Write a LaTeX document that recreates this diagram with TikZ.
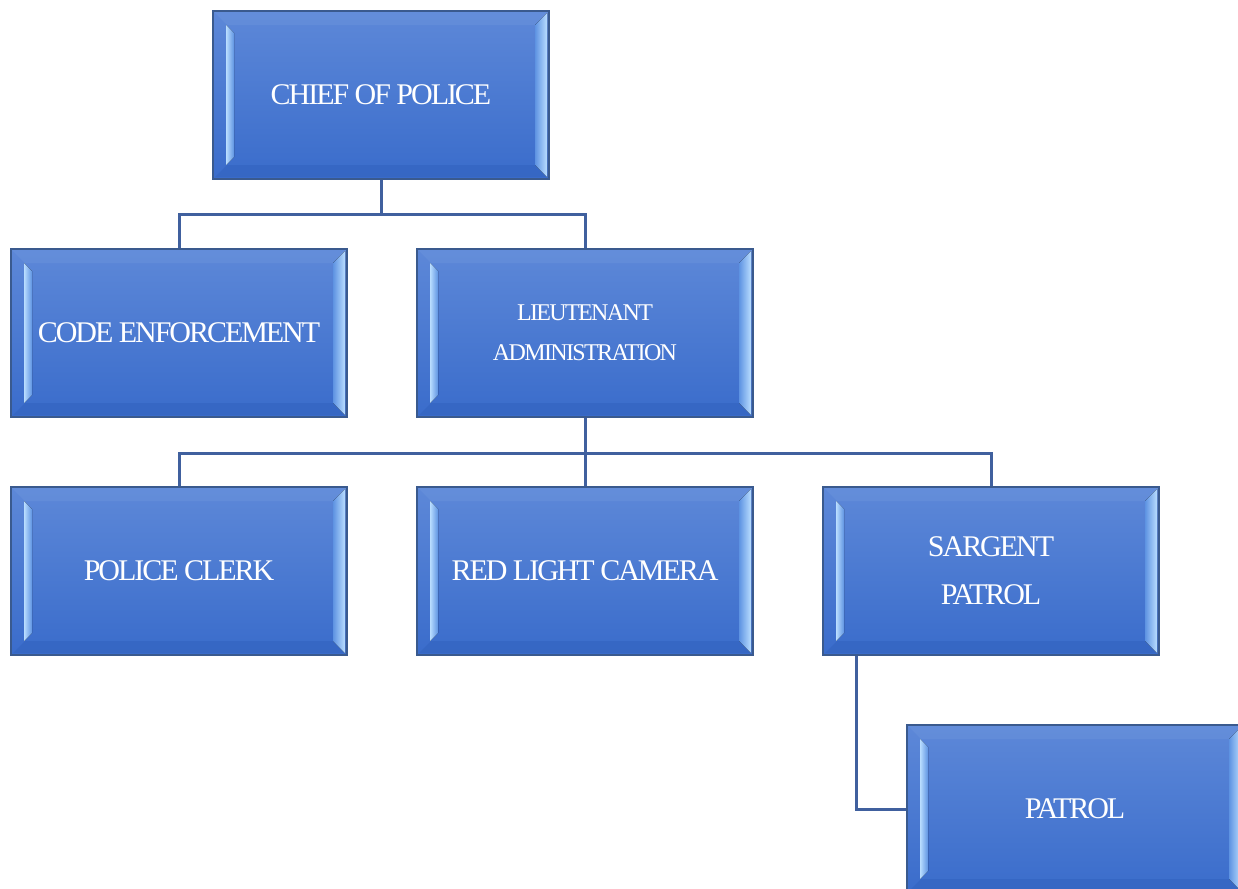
\documentclass[tikz,border=0pt]{standalone}
\usepackage{fontspec}
\newfontfamily\boxfont[LetterSpace=-6.8]{Liberation Serif}
\definecolor{fillA}{HTML}{5D88D8}
\definecolor{fillB}{HTML}{3A6CCB}
\definecolor{bordercol}{HTML}{3A5A8E}
\definecolor{conncol}{HTML}{40609E}
\definecolor{bevlight}{HTML}{B9DDFF}
\definecolor{bevmid}{HTML}{5E93E2}
\definecolor{bevbot}{HTML}{3566C2}
\definecolor{bevtop}{HTML}{6A93DC}
\tikzset{
  orgbox/.style={rectangle, minimum width=336pt, minimum height=168pt, inner sep=0pt,
    draw=bordercol, line width=1.6pt, top color=fillA, bottom color=fillB,
    text=white, align=center, font=\boxfont\fontsize{30}{48}\selectfont,
    path picture={
      \coordinate (nw) at (path picture bounding box.north west);
      \coordinate (ne) at (path picture bounding box.north east);
      \coordinate (sw) at (path picture bounding box.south west);
      \coordinate (se) at (path picture bounding box.south east);
      % top bevel
      \fill[bevtop, opacity=0.5] (nw) -- (ne) -- ([shift={(-14,14)}]ne) -- ([shift={(14,14)}]nw) -- cycle;
      % bottom bevel
      \fill[bevbot, opacity=0.8] ([shift={(2,-2)}]sw) -- ([shift={(-2,-2)}]se) -- ([shift={(-14,-14)}]se) -- ([shift={(14,-14)}]sw) -- cycle;
      % left bevel strip
      \fill[left color=bevlight, right color=bevmid] ([shift={(13,14)}]nw) -- ([shift={(21,22)}]nw) -- ([shift={(21,-22)}]sw) -- ([shift={(13,-14)}]sw) -- cycle;
      % right bevel strip
      \fill[left color=bevmid, right color=bevlight] ([shift={(-14,14)}]ne) -- ([shift={(-2,2)}]ne) -- ([shift={(-2,-2)}]se) -- ([shift={(-14,-14)}]se) -- cycle;
    }},
  smallfont/.style={font=\boxfont\fontsize{24}{40}\selectfont},
  conn/.style={draw=conncol, line width=3pt}
}
\begin{document}
\begin{tikzpicture}[x=1pt, y=-1pt]
\useasboundingbox (0,0) rectangle (1238,888);
\node[orgbox] (chief) at (381,95) {CHIEF OF POLICE};
\node[orgbox] (code) at (179,333) {CODE ENFORCEMENT};
\node[orgbox, smallfont] (lieut) at (585,333) {LIEUTENANT\\ADMINISTRATION};
\node[orgbox] (clerk) at (179,571) {POLICE CLERK};
\node[orgbox] (red) at (585,571) {RED LIGHT CAMERA};
\node[orgbox] (sarg) at (991,571) {SARGENT\\PATROL};
\node[orgbox] (patrol) at (1075,809) {PATROL};
\draw[conn] (chief.south) -- ++(0,35) -| (code.north);
\draw[conn] (chief.south) -- ++(0,35) -| (lieut.north);
\draw[conn] (lieut.south) -- ++(0,36) -| (clerk.north);
\draw[conn] (lieut.south) -- ++(0,36) -| (red.north);
\draw[conn] (lieut.south) -- ++(0,36) -| (sarg.north);
\draw[conn] ([xshift=-135pt]sarg.south) |- (patrol.west);
\end{tikzpicture}
\end{document}
